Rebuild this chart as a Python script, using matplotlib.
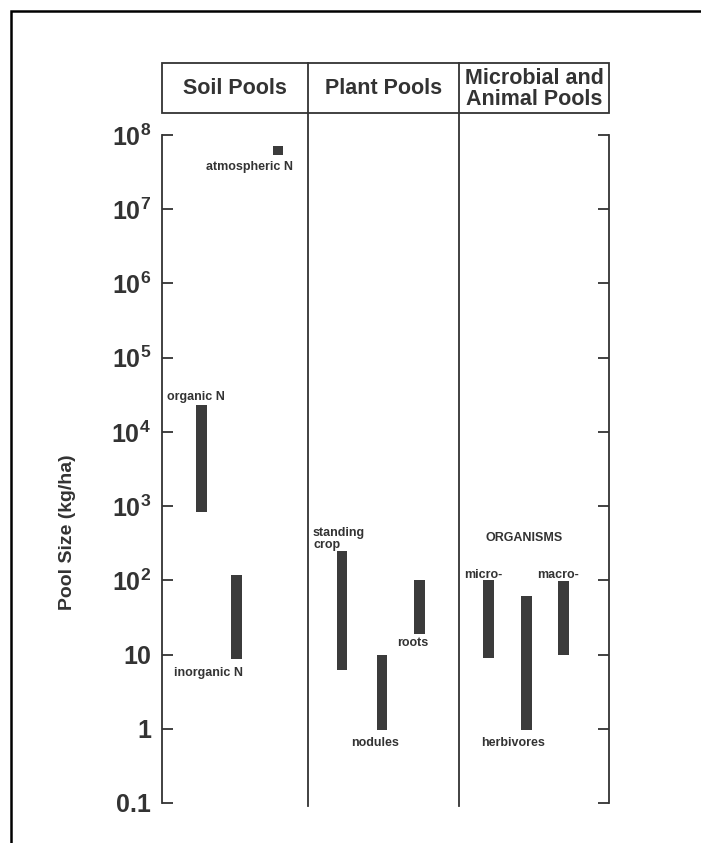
import matplotlib
matplotlib.use("Agg")
import matplotlib.pyplot as plt
import numpy as np
from matplotlib.patches import Rectangle
from matplotlib.lines import Line2D
from matplotlib.ticker import FixedLocator, NullLocator

plt.rcParams['font.family'] = ['Liberation Sans', 'DejaVu Sans']
plt.rcParams['mathtext.fontset'] = 'custom'
plt.rcParams['mathtext.rm'] = 'Liberation Sans:bold'
plt.rcParams['mathtext.bf'] = 'Liberation Sans:bold'
plt.rcParams['mathtext.default'] = 'bf'

# pool sizes in kg/ha
pools = ['atmospheric N', 'organic N', 'inorganic N',
         'standing crop', 'nodules', 'roots',
         'micro-', 'herbivores', 'macro-']
low = [5.4e7, 830, 8.8, 6.1, 0.97, 19, 9.1, 0.95, 10]
high = [7.1e7, 2.3e4, 117, 247, 10, 100, 100, 61, 98]

groups = ['Soil Pools', 'Plant Pools', 'Microbial and\nAnimal Pools']
tick_vals = [0.1, 1, 10, 1e2, 1e3, 1e4, 1e5, 1e6, 1e7, 1e8]
tick_labels = ['0.1', '1', '10', '10$^{2}$', '10$^{3}$', '10$^{4}$',
               '10$^{5}$', '10$^{6}$', '10$^{7}$', '10$^{8}$']

# layout (pixel based, figure is 701 x 843)
W, H = 701, 843
AX_L, AX_R = 162, 609
AX_TOP, AX_BOT = 135, 803
bar_x = [278, 201.5, 236.5, 342, 382, 419.5, 488.5, 526.5, 563.5]
divider_x = [308, 459]
head_top, head_bot = 63, 113
ink = '#333333'
bar_col = '#3b3b3b'


def fx(px):
    return px / W


def fy(py):
    return (H - py) / H


def val(py):
    # pixel row -> value on the log axis
    return 10 ** (8 - 9 * (py - AX_TOP) / (AX_BOT - AX_TOP))


fig = plt.figure(figsize=(7.01, 8.43), dpi=100)
fig.patch.set_facecolor('white')
ax = fig.add_axes([fx(AX_L), fy(AX_BOT), fx(AX_R) - fx(AX_L), fy(AX_TOP) - fy(AX_BOT)])
ax.set_facecolor('none')
ax.set_yscale('log')
ax.set_ylim(0.1, 1e8)
ax.set_xlim(AX_L, AX_R)

heights = np.array(high) - np.array(low)
ax.bar(bar_x, heights, bottom=low, width=10.5, color=bar_col, edgecolor='none')

ax.yaxis.set_major_locator(FixedLocator(tick_vals))
ax.yaxis.set_minor_locator(NullLocator())
ax.set_yticklabels(tick_labels)
ax.set_xticks([])
ax.tick_params(axis='y', direction='in', length=8, width=1.3, color=ink,
               right=True, labelright=False, labelsize=18, labelcolor=ink, pad=8)
for lab in ax.get_yticklabels():
    lab.set_fontweight('bold')
for s in ['top', 'bottom']:
    ax.spines[s].set_visible(False)
for s in ['left', 'right']:
    ax.spines[s].set_color(ink)
    ax.spines[s].set_linewidth(1.3)

# labels for the bars
lab_style = dict(fontsize=9, fontweight='bold', color=ink)
ax.text(250, val(167), 'atmospheric N', ha='center', va='center', **lab_style)
ax.text(196, val(397), 'organic N', ha='center', va='center', **lab_style)
ax.text(208, val(673), 'inorganic N', ha='center', va='center', **lab_style)
ax.text(313, val(539), 'standing\ncrop', ha='left', va='center', linespacing=0.95, **lab_style)
ax.text(375, val(743), 'nodules', ha='center', va='center', **lab_style)
ax.text(413, val(643), 'roots', ha='center', va='center', **lab_style)
ax.text(524, val(538), 'ORGANISMS', ha='center', va='center', **lab_style)
ax.text(483, val(575), 'micro-', ha='center', va='center', **lab_style)
ax.text(558, val(575), 'macro-', ha='center', va='center', **lab_style)
ax.text(513, val(743), 'herbivores', ha='center', va='center', **lab_style)

# header box and column dividers
fig.add_artist(Rectangle((fx(AX_L), fy(head_bot)), fx(AX_R) - fx(AX_L),
                         fy(head_top) - fy(head_bot), fill=False,
                         edgecolor=ink, linewidth=1.3))
for dx in divider_x:
    fig.add_artist(Line2D([fx(dx), fx(dx)], [fy(806), fy(head_top)],
                          color=ink, linewidth=1.3))
edges = [AX_L] + divider_x + [AX_R]
for i, g in enumerate(groups):
    cx = (edges[i] + edges[i + 1]) / 2
    fig.text(fx(cx), fy((head_top + head_bot) / 2 + 1), g, ha='center', va='center',
             fontsize=15.5, fontweight='bold', color=ink, linespacing=0.95)

fig.text(fx(67), fy(532), 'Pool Size (kg/ha)', rotation=90, ha='center', va='center',
         fontsize=14, fontweight='bold', color=ink)

# outer frame of the scanned page
fig.add_artist(Rectangle((fx(11), -0.1), 1.2, fy(11) + 0.1, fill=False,
                         edgecolor='black', linewidth=1.8))

fig.savefig('out.png', dpi=100)
